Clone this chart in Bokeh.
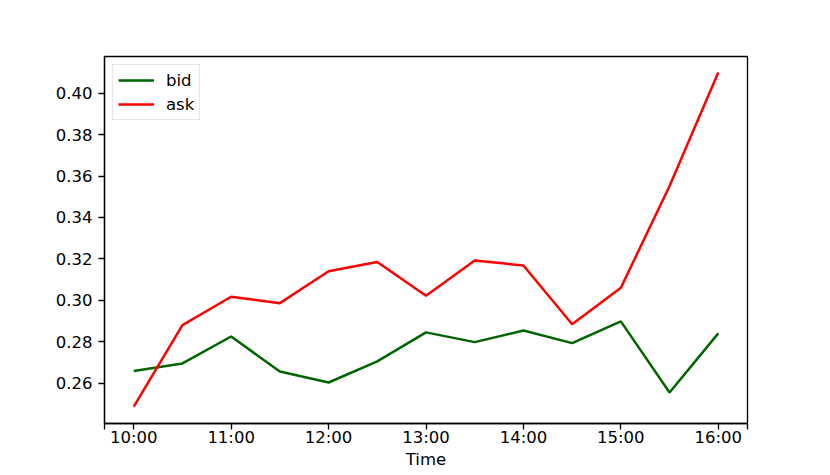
from bokeh.plotting import figure
from bokeh.models import FixedTicker, Range1d, Legend, LegendItem
from bokeh.embed import file_html
from bokeh.resources import INLINE

times = ["10:00", "10:30", "11:00", "11:30", "12:00", "12:30", "13:00",
         "13:30", "14:00", "14:30", "15:00", "15:30", "16:00"]
bid = [0.2658, 0.2695, 0.2825, 0.2656, 0.2603, 0.2705, 0.2845,
       0.2798, 0.2854, 0.2793, 0.2898, 0.2555, 0.2840]
ask = [0.2487, 0.2880, 0.3017, 0.2986, 0.3140, 0.3185, 0.3022,
       0.3192, 0.3168, 0.2884, 0.3060, 0.3552, 0.4100]
tick_labels = ["10:00", "11:00", "12:00", "13:00", "14:00", "15:00", "16:00"]
y_ticks = [0.26, 0.28, 0.30, 0.32, 0.34, 0.36, 0.38, 0.40]


def to_hours(s):
    h, m = s.split(":")
    return int(h) + int(m) / 60.0


x = [to_hours(t) for t in times]
x_ticks = [to_hours(t) for t in tick_labels]

FONT = "DejaVu Sans"
FS = "16.5px"

p = figure(width=830, height=475, output_backend="svg", toolbar_location=None,
           x_range=Range1d(9.7, 16.3), y_range=Range1d(0.2405, 0.4177),
           min_border_left=104, min_border_right=83, min_border_top=56,
           min_border_bottom=52)
p.background_fill_color = "white"
p.border_fill_color = "white"
p.outline_line_color = "black"
p.outline_line_width = 1.3
p.xgrid.visible = False
p.ygrid.visible = False

r_bid = p.line(x, bid, line_color="#006400", line_width=2.5)
r_ask = p.line(x, ask, line_color="red", line_width=2.5)

p.xaxis.ticker = FixedTicker(ticks=x_ticks, minor_ticks=[9.7, 16.3])
p.xaxis.major_label_overrides = {v: lab for v, lab in zip(x_ticks, tick_labels)}
p.yaxis.ticker = FixedTicker(ticks=y_ticks)
p.yaxis.major_label_overrides = {v: f"{v:.2f}" for v in y_ticks}

for ax in (p.xaxis[0], p.yaxis[0]):
    ax.major_label_text_font = FONT
    ax.major_label_text_font_size = FS
    ax.major_label_text_color = "black"
    ax.major_tick_in = 0
    ax.major_tick_out = 6
    ax.minor_tick_in = 0
    ax.minor_tick_out = 0
    ax.major_tick_line_color = "black"
    ax.major_tick_line_width = 1.3
    ax.axis_line_color = "black"
    ax.axis_line_width = 1.3

p.yaxis.major_label_standoff = 6
p.xaxis.major_label_standoff = -2
p.xaxis.minor_tick_out = 6
p.xaxis.minor_tick_line_color = "black"
p.xaxis.minor_tick_line_width = 1.3
p.xaxis.axis_label = "Time"
p.xaxis.axis_label_text_font = FONT
p.xaxis.axis_label_text_font_size = FS
p.xaxis.axis_label_text_font_style = "normal"
p.xaxis.axis_label_text_color = "black"
p.xaxis.axis_label_standoff = 0

legend = Legend(items=[LegendItem(label="bid", renderers=[r_bid]),
                       LegendItem(label="ask", renderers=[r_ask])],
                location="top_left")
legend.margin = 8
legend.padding = 5
legend.spacing = 4
legend.glyph_width = 36
legend.glyph_height = 20
legend.label_height = 20
legend.label_standoff = 12
legend.label_text_font = FONT
legend.label_text_font_size = FS
legend.label_text_color = "black"
legend.border_line_color = "#cccccc"
legend.border_line_width = 1
legend.background_fill_alpha = 0.8
p.add_layout(legend, "center")

open("out.html", "w").write(file_html(p, INLINE))
